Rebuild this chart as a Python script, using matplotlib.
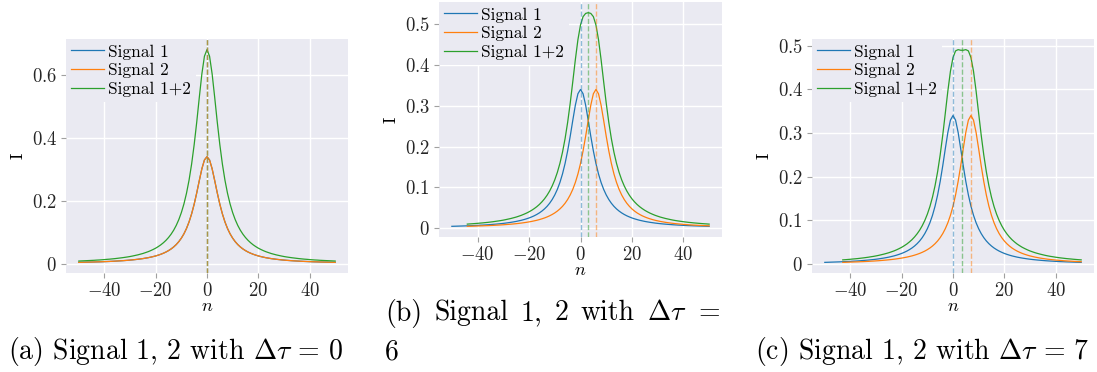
import numpy as np
import matplotlib
matplotlib.use("Agg")
import matplotlib.pyplot as plt
from matplotlib.ticker import FuncFormatter

# half profile of one pulse, I(|k|) for k = 0..50
profile = [0.3400, 0.3295, 0.3015, 0.2642, 0.2251, 0.1892, 0.1583, 0.1327, 0.1118, 0.0949,
           0.0812, 0.0700, 0.0608, 0.0532, 0.0469, 0.0416, 0.0371, 0.0333, 0.0300, 0.0272,
           0.0247, 0.0226, 0.0207, 0.0190, 0.0176, 0.0162, 0.0151, 0.0140, 0.0131, 0.0122,
           0.0114, 0.0107, 0.0101, 0.0095, 0.0090, 0.0085, 0.0080, 0.0076, 0.0072, 0.0069,
           0.0065, 0.0062, 0.0059, 0.0057, 0.0054, 0.0052, 0.0050, 0.0048, 0.0046, 0.0044,
           0.0042]
shifts = [0, 6, 7]
labels = ["Signal 1", "Signal 2", "Signal 1+2"]
captions = ["(a) Signal 1, 2 with $\\Delta\\tau$ = 0",
            "(b) Signal 1, 2 with $\\Delta\\tau$ =",
            "(c) Signal 1, 2 with $\\Delta\\tau$ = 7"]

plt.rcParams.update({
    "font.family": "cmr10",
    "mathtext.fontset": "cm",
    "axes.formatter.use_mathtext": True,
    "axes.facecolor": "#EAEAF2",
    "axes.edgecolor": "none",
    "axes.grid": True,
    "grid.color": "white",
    "grid.linewidth": 1.0,
    "axes.axisbelow": True,
    "xtick.color": "#a0a0a0",
    "ytick.color": "#a0a0a0",
    "xtick.labelcolor": "#262626",
    "ytick.labelcolor": "#262626",
    "xtick.major.size": 3.5,
    "ytick.major.size": 3.5,
    "xtick.labelsize": 13.5,
    "ytick.labelsize": 13.5,
    "axes.labelsize": 13,
})

W, H = 1097, 372
fig = plt.figure(figsize=(W / 100, H / 100), dpi=100)
boxes = [(66, 39, 348, 273), (439, 2, 722, 237), (812, 39, 1094, 273)]

prof = np.array(profile)
n = np.arange(-50, 51)
s1 = prof[np.abs(n)]
fmt = FuncFormatter(lambda v, p: "$\\mathdefault{%g}$" % round(v, 6))

for box, d in zip(boxes, shifts):
    x0, y0, x1, y1 = box
    ax = fig.add_axes([x0 / W, 1 - y1 / H, (x1 - x0) / W, (y1 - y0) / H])
    n2 = n[n >= -50 + d]
    s2 = prof[np.abs(n2 - d)]
    tot = s1[n >= -50 + d] + s2
    ax.plot(n, s1, color="C0", lw=0.9, label=labels[0])
    ax.plot(n2, s2, color="C1", lw=0.9, label=labels[1])
    ax.plot(n2, tot, color="C2", lw=0.9, label=labels[2])
    for c, xv in zip(["C0", "C2", "C1"], [0, d / 2, d]):
        ax.axvline(xv, color=c, ls="--", lw=1.0, alpha=0.5)
    ax.set_xlabel("$n$", labelpad=-1)
    ax.set_ylabel("I")
    ax.set_xticks([-40, -20, 0, 20, 40])
    ax.xaxis.set_major_formatter(fmt)
    ax.yaxis.set_major_formatter(fmt)
    ax.tick_params(pad=3)
    ax.legend(loc="upper left", fontsize=12.5, borderaxespad=0, frameon=True,
              facecolor="#EAEAF2", edgecolor="none", framealpha=1.0, fancybox=False,
              handlelength=1.9, handletextpad=0.2, labelspacing=0.2, borderpad=0.3)

cap_fs = 20
fig.text(8 / W, 1 - 352 / H, captions[0], fontsize=cap_fs, va="center", ha="left")
fig.text(755 / W, 1 - 352 / H, captions[2], fontsize=cap_fs, va="center", ha="left")
fig.text(385 / W, 1 - 352 / H, "6", fontsize=cap_fs, va="center", ha="left")

# first line of caption (b) is justified between x=385 and x=720
words = captions[1].replace("$\\Delta\\tau$", "DT").split(" ")
words = [w.replace("DT", "$\\Delta\\tau$") for w in words]
renderer = fig.canvas.get_renderer()
widths = []
for w in words:
    t = fig.text(0, 0, w, fontsize=cap_fs)
    widths.append(t.get_window_extent(renderer).width)
    t.remove()
gap = (720 - 385 - sum(widths)) / (len(words) - 1)
x = 385
for w, wd in zip(words, widths):
    fig.text(x / W, 1 - 313 / H, w, fontsize=cap_fs, va="center", ha="left")
    x += wd + gap

fig.savefig("out.png", dpi=100)
